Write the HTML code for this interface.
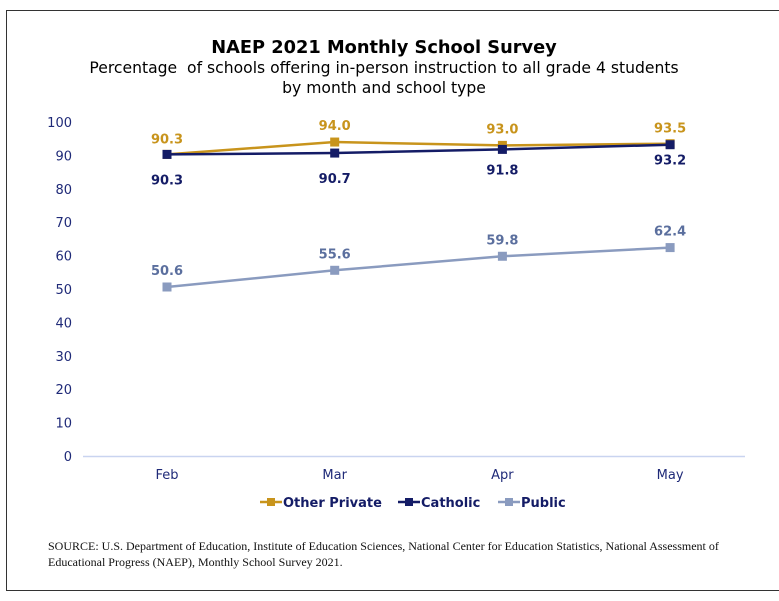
<!DOCTYPE html>
<html><head><meta charset="utf-8">
<style>
body{margin:0;background:#fff;width:779px;height:601px;overflow:hidden;font-family:"DejaVu Sans","Liberation Sans",sans-serif;}
#frame{position:absolute;left:6px;top:10px;width:790px;height:579px;border:1.5px solid #333;border-right:none;}
.title{position:absolute;left:0;width:768px;text-align:center;color:#000;}
#src{position:absolute;left:48px;top:538px;width:710px;font:12px "Liberation Serif",serif;color:#111;line-height:16px;}
</style></head><body>
<div id="frame"></div>
<div class="title" style="top:37px;font-weight:bold;font-size:17.8px;">NAEP 2021 Monthly School Survey</div>
<div class="title" style="top:58px;font-size:15.6px;line-height:20px;">Percentage&nbsp; of schools offering in-person instruction to all grade 4 students<br>by month and school type</div>
<svg id="chart" width="779" height="601" style="position:absolute;left:0;top:0" xmlns="http://www.w3.org/2000/svg"></svg>
<div id="src">SOURCE: U.S. Department of Education, Institute of Education Sciences, National Center for Education Statistics, National Assessment of Educational Progress (NAEP), Monthly School Survey 2021.</div>
<script>
const months=["Feb","Mar","Apr","May"];
const yTicks=[0,10,20,30,40,50,60,70,80,90,100];
const otherPrivate=[90.3,94.0,93.0,93.5];
const catholic=[90.3,90.7,91.8,93.2];
const publicSch=[50.6,55.6,59.8,62.4];
const svg=document.getElementById('chart');
const NS="http://www.w3.org/2000/svg";
const x=i=>167+i*167.7;
const y=v=>456-v*3.34;
function mk(t,a){const e=document.createElementNS(NS,t);for(const k in a)e.setAttribute(k,a[k]);svg.appendChild(e);return e;}
const ax=mk('line',{x1:83,x2:745,y1:456.5,y2:456.5,stroke:'#c9d4f0','stroke-width':1.5});


yTicks.forEach(t=>{const e=mk('text',{x:72,y:y(t)+5,'text-anchor':'end','font-size':13,fill:'#1f2a78'});e.textContent=t;

});
months.forEach((m,i)=>{const e=mk('text',{x:x(i),y:479,'text-anchor':'middle','font-size':13,fill:'#1f2a78'});e.textContent=m;

});
const series=[
 {d:publicSch,c:'#8a9bbf',lc:'#5b6f9e',off:[-12,-12,-12,-12],name:'public'},
 {d:otherPrivate,c:'#c8941c',lc:'#c8941c',off:[-11,-12,-12,-11],name:'other-private'},
 {d:catholic,c:'#141c66',lc:'#141c66',off:[30,30,25,20],name:'catholic'}];
series.forEach(s=>{
 const p=mk('polyline',{points:s.d.map((v,i)=>x(i)+','+y(v)).join(' '),fill:'none',stroke:s.c,'stroke-width':2.5});
 
 
 s.d.forEach((v,i)=>{
  const r=mk('rect',{x:x(i)-4.5,y:y(v)-4.5,width:9,height:9,fill:s.c});
  
  
  const t=mk('text',{x:x(i),y:y(v)+s.off[i],'text-anchor':'middle','font-size':13,'font-weight':'bold',fill:s.lc});
  t.textContent=v.toFixed(1);
  
  
 });
});
const leg=[{n:'Other Private',c:'#c8941c',x:260,k:'legend-other-private'},{n:'Catholic',c:'#141c66',x:398,k:'legend-catholic'},{n:'Public',c:'#8a9bbf',x:498,k:'legend-public'}];
leg.forEach(l=>{
 const g=document.createElementNS(NS,'g');svg.appendChild(g);
 
 
 const ln=document.createElementNS(NS,'line');ln.setAttribute('x1',l.x);ln.setAttribute('x2',l.x+22);ln.setAttribute('y1',502);ln.setAttribute('y2',502);ln.setAttribute('stroke',l.c);ln.setAttribute('stroke-width',2.5);g.appendChild(ln);
 const r=document.createElementNS(NS,'rect');r.setAttribute('x',l.x+7);r.setAttribute('y',498);r.setAttribute('width',8);r.setAttribute('height',8);r.setAttribute('fill',l.c);g.appendChild(r);
 const t=document.createElementNS(NS,'text');t.setAttribute('x',l.x+23);t.setAttribute('y',507);t.setAttribute('font-size',13);t.setAttribute('font-weight','bold');t.setAttribute('fill','#141c66');t.textContent=l.n;g.appendChild(t);
});
</script>
</body></html>
